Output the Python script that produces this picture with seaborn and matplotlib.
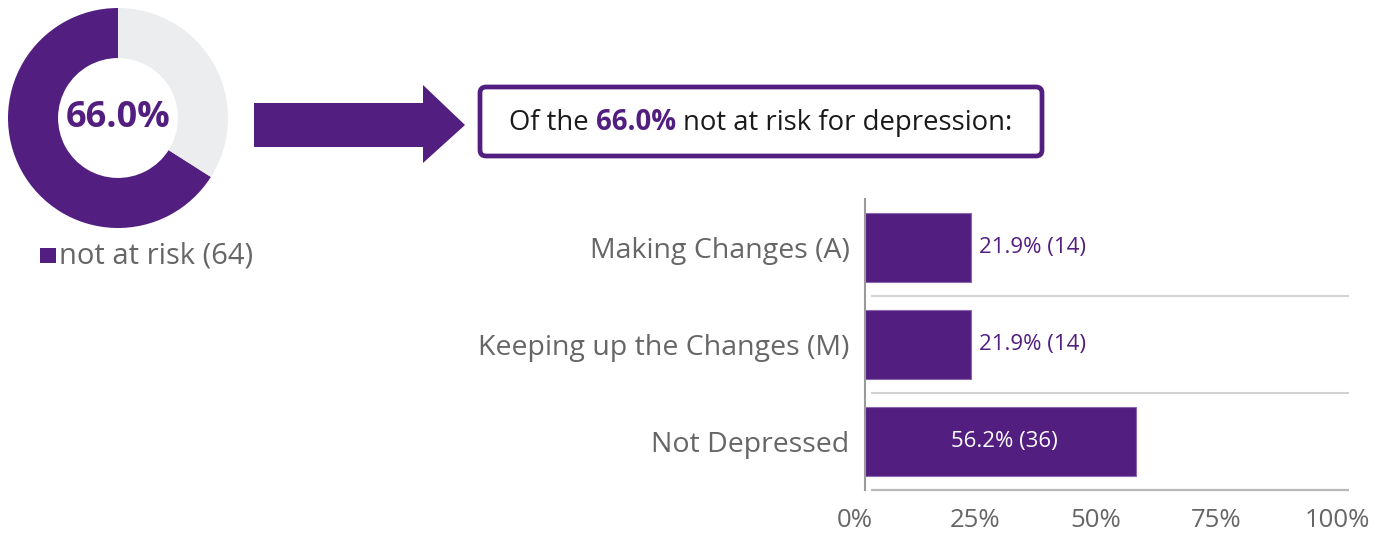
import matplotlib
matplotlib.use("Agg")
import matplotlib.pyplot as plt
import seaborn as sns
import pandas as pd
from matplotlib.patches import FancyBboxPatch, Polygon, Rectangle
from matplotlib.transforms import ScaledTranslation

# Stage-of-change breakdown for respondents not at risk
categories = ["Making Changes (A)", "Keeping up the Changes (M)", "Not Depressed"]
percents = [21.9, 21.9, 56.2]
counts = [14, 14, 36]

# Share not at risk vs. the rest
donut_share = [66.0, 34.0]
donut_count = 64
donut_label = "not at risk"

x_ticks = [0, 25, 50, 75, 100]
x_tick_labels = ["0%", "25%", "50%", "75%", "100%"]

PURPLE = "#521e80"
RING = "#ecedef"
GRAY_TXT = "#666666"
DARK_TXT = "#1a1a1a"

sns.set_theme(style="white")
plt.rcParams["font.family"] = ["Open Sans", "DejaVu Sans"]

W, H = 1389, 533
DPI = 100
fig = plt.figure(figsize=(W / DPI, H / DPI), dpi=DPI)
fig.patch.set_facecolor("white")


def px_axes(x0, y0, x1, y1):
    """Axes placed by pixel box (top-left origin)."""
    return fig.add_axes([x0 / W, 1 - y1 / H, (x1 - x0) / W, (y1 - y0) / H])


# ---- donut ----
axd = px_axes(8, 8, 228, 228)
axd.pie(donut_share, colors=[PURPLE, RING], startangle=90, counterclock=True,
        radius=1.0, wedgeprops=dict(width=0.455, edgecolor="none"))
axd.set_xlim(-1, 1)
axd.set_ylim(-1, 1)
axd.text(0, 0, f"{donut_share[0]:.1f}%", ha="center", va="center",
         fontsize=26, fontweight="bold", color=PURPLE)

# ---- horizontal bars ----
axb = px_axes(865, 199, 1347, 490)
axb.set_facecolor("none")
df = pd.DataFrame({"category": categories, "percent": percents})
sns.barplot(data=df, x="percent", y="category", orient="h", color=PURPLE,
            saturation=1, width=0.72, edgecolor="#8a68ad", linewidth=0.8,
            ax=axb)
axb.set_xlim(0, 100)
axb.set_ylim(len(categories) - 0.5, -0.5)
axb.set_xlabel("")
axb.set_ylabel("")

for y in [0.5, 1.5]:
    axb.hlines(y, 1.2, 100.5, color="#d2d2d2", lw=1.5, clip_on=False, zorder=0)
axb.hlines(len(categories) - 0.5, 1.2, 100.5, color="#b8b8b8", lw=1.6,
           clip_on=False, zorder=0)

for side in ["top", "right", "bottom"]:
    axb.spines[side].set_visible(False)
axb.spines["left"].set_color("#9a9a9a")
axb.spines["left"].set_linewidth(1.5)

axb.set_xticks(x_ticks)
axb.set_xticklabels(x_tick_labels)
axb.tick_params(axis="x", length=0, pad=13, labelsize=18.5, labelcolor=GRAY_TXT)
axb.tick_params(axis="y", length=0, pad=11, labelsize=20.5, labelcolor=GRAY_TXT)
shift = ScaledTranslation(-10 / DPI, 0, fig.dpi_scale_trans)
for lbl in axb.get_xticklabels():
    lbl.set_transform(lbl.get_transform() + shift)

for i, (p, n) in enumerate(zip(percents, counts)):
    txt = f"{p:.1f}% ({n})"
    if p > 40:
        axb.text(p / 2 + 0.8, i, txt, ha="center", va="center",
                 fontsize=16, color="white")
    else:
        axb.text(p + 1.8, i, txt, ha="left", va="center",
                 fontsize=16, color=PURPLE)

# ---- overlay: legend, arrow, callout box ----
ov = fig.add_axes([0, 0, 1, 1])
ov.set_xlim(0, W)
ov.set_ylim(H, 0)
ov.axis("off")
ov.patch.set_alpha(0)

ov.add_patch(Rectangle((40, 248), 16, 15, color=PURPLE, lw=0))
ov.text(59, 256, f"{donut_label} ({donut_count})", ha="left", va="center",
        fontsize=21, color=GRAY_TXT)

ov.add_patch(Polygon([(254, 103), (423, 103), (423, 85), (465, 125),
                      (423, 163), (423, 147), (254, 147)],
                     closed=True, color=PURPLE, lw=0))

ov.add_patch(FancyBboxPatch((480, 87), 562, 69,
                            boxstyle="round,pad=0,rounding_size=6",
                            lw=3.4, ec=PURPLE, fc="white"))

# callout sentence built from three runs of text
fig.canvas.draw()
renderer = fig.canvas.get_renderer()
inv = ov.transData.inverted()


def text_width(s, **kw):
    t = ov.text(0, 0, s, **kw)
    bb = t.get_window_extent(renderer)
    t.remove()
    a = inv.transform((bb.x0, bb.y0))
    b = inv.transform((bb.x1, bb.y1))
    return abs(b[0] - a[0])


base = dict(fontsize=19.8)
space = text_width("x x", **base) - text_width("xx", **base)
parts = [("Of the", dict(color=DARK_TXT, **base)),
         (f"{donut_share[0]:.1f}%", dict(color=PURPLE, fontweight="bold", **base)),
         ("not at risk for depression:", dict(color=DARK_TXT, **base))]
widths = [text_width(s, **kw) for s, kw in parts]
total = sum(widths) + space * (len(parts) - 1)
x = 761 - total / 2
for (s, kw), w in zip(parts, widths):
    ov.text(x, 123, s, ha="left", va="center", **kw)
    x += w + space

fig.savefig("out.png", dpi=DPI, facecolor="white")
